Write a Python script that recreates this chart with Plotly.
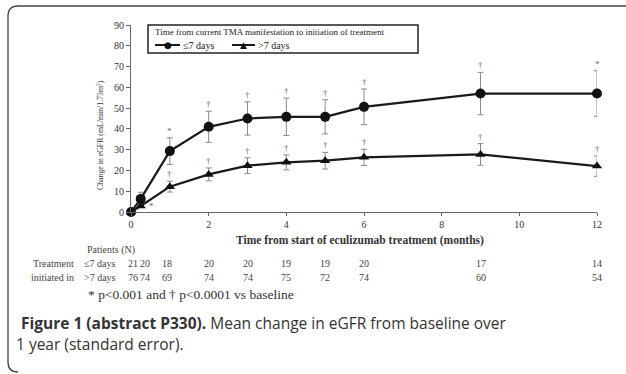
import plotly.graph_objects as go

# ---- data ----
months = [0, 0.25, 1, 2, 3, 4, 5, 6, 9, 12]
le7_mean = [0, 6.3, 29.3, 41.0, 45.0, 45.8, 45.8, 50.6, 57.0, 57.0]
le7_se = [0, 3.2, 6.4, 7.5, 8.0, 9.0, 8.2, 8.6, 10.2, 11.0]
gt7_mean = [0, 2.9, 12.2, 18.1, 22.3, 23.9, 24.7, 26.3, 27.7, 22.1]
gt7_se = [0, 0, 2.6, 3.1, 3.8, 3.6, 4.0, 3.9, 5.2, 4.9]
le7_sig = ["", "", "*", "†", "†", "†", "†", "†", "†", "*"]
gt7_sig = ["", "", "†", "†", "†", "†", "†", "†", "†", "†"]
le7_n = ["21", "20", "18", "20", "20", "19", "19", "20", "17", "14"]
gt7_n = ["76", "74", "69", "74", "74", "75", "72", "74", "60", "54"]
x_ticks = [0, 2, 4, 6, 8, 10, 12]
y_ticks = [0, 10, 20, 30, 40, 50, 60, 70, 80, 90]
series_names = ["≤7 days", ">7 days"]
legend_title = "Time from current TMA manifestation to initiation of treatment"

W, H = 626, 374
L, R, T, B = 131, 29, 25, 162
PW, PH = W - L - R, H - T - B


def px(x):
    return (x - L) / PW


def py(y):
    return (H - B - y) / PH


SERIF = "Liberation Serif"
INK = "#1a1a1a"
fig = go.Figure()
fig.add_trace(go.Scatter(
    x=months, y=le7_mean, mode="lines+markers", name=series_names[0],
    line=dict(color=INK, width=2.2),
    marker=dict(symbol="circle", size=10, color="#111"),
    error_y=dict(type="data", array=le7_se, color="#8a8a8a", thickness=1, width=3),
    cliponaxis=False))
fig.add_trace(go.Scatter(
    x=months, y=gt7_mean, mode="lines+markers", name=series_names[1],
    line=dict(color=INK, width=2.2),
    marker=dict(symbol="triangle-up", size=9, color="#111"),
    error_y=dict(type="data", array=gt7_se, color="#8a8a8a", thickness=1, width=3),
    cliponaxis=False))

sigfont = dict(family=SERIF, size=9, color="#666")
ann = []
for mean, se, sig in ((le7_mean, le7_se, le7_sig), (gt7_mean, gt7_se, gt7_sig)):
    for m, v, s, g in zip(months, mean, se, sig):
        if g:
            ann.append(dict(x=m, y=v + s, xref="x", yref="y", text=g, showarrow=False,
                            xanchor="center", yanchor="middle", yshift=7, font=sigfont))
# asterisk beside the first >7 days point
ann.append(dict(x=months[1], y=gt7_mean[1], xref="x", yref="y", text="*", showarrow=False,
                xshift=11, xanchor="center", yanchor="middle", font=sigfont))


def note(x, y, text, font, xanchor="left", **kw):
    ann.append(dict(x=px(x), y=py(y), xref="paper", yref="paper", text=text,
                    showarrow=False, xanchor=xanchor, yanchor="middle", font=font, **kw))


# axis titles
note(360, 240, "<b>Time from start of eculizumab treatment (months)</b>",
     dict(family=SERIF, size=11.5, color="#333"), xanchor="center")
note(100, 135, "Change in eGFR (mL/min/1.73m<sup>2</sup>)",
     dict(family=SERIF, size=7.8, color="#333"), xanchor="center", textangle=-90)

# legend (drawn manually)
shapes = [dict(type="rect", xref="paper", yref="paper", x0=px(148), x1=px(418),
               y0=py(53), y1=py(25), line=dict(color="#222", width=1.5), fillcolor="white")]
note(153, 32, legend_title, dict(family=SERIF, size=9, color="#222"))
for x0, x1, sym, name in ((155, 180, "●", series_names[0]), (232, 255, "▲", series_names[1])):
    shapes.append(dict(type="line", xref="paper", yref="paper", x0=px(x0), x1=px(x1),
                       y0=py(45), y1=py(45), line=dict(color=INK, width=2)))
    note((x0 + x1) / 2, 45, sym, dict(family="DejaVu Sans", size=9, color="#111"),
         xanchor="center")
    note(x1 + 1, 45, name, dict(family=SERIF, size=10, color="#222"))

# patient table
tf = dict(family=SERIF, size=10, color="#444")
note(85, 250, "Patients (N)", tf)
note(76, 263, "Treatment", tf, xanchor="right")
note(76, 277, "initiated in", tf, xanchor="right")
note(82, 263, "≤7 days", tf)
note(82, 277, ">7 days", tf)
shifts = [2, 4, -3, 0, 0, 0, 0, 0, 0, 0]
for m, a, b, sh in zip(months, le7_n, gt7_n, shifts):
    for txt, yy in ((a, 263), (b, 277)):
        ann.append(dict(x=m, y=py(yy), xref="x", yref="paper", text=txt, showarrow=False,
                        xshift=sh, xanchor="center", yanchor="middle", font=tf))
note(86, 294, "* p<0.001 and † p<0.0001 vs baseline",
     dict(family=SERIF, size=13.5, color="#333"))

# caption
cf = dict(family="Open Sans", size=15.5, color="#333")
note(19, 323, "<b>Figure 1 (abstract P330).</b> Mean change in eGFR from baseline over", cf)
note(14, 344, "1 year (standard error).", cf)

# frame path
r = 10
path = (f"M {px(626)} {py(6)} L {px(8 + r)} {py(6)} Q {px(8)} {py(6)} {px(8)} {py(6 + r)} "
        f"L {px(8)} {py(372 - r)} Q {px(8)} {py(372)} {px(8 + r)} {py(372)}")
shapes.append(dict(type="path", xref="paper", yref="paper", path=path,
                   line=dict(color="#444", width=1.3)))

fig.update_layout(
    width=W, height=H, margin=dict(l=L, r=R, t=T, b=B, autoexpand=False),
    paper_bgcolor="white", plot_bgcolor="white",
    annotations=ann, shapes=shapes, showlegend=False,
    xaxis=dict(range=[0, 12], tickvals=x_ticks, showgrid=False, zeroline=False,
               showline=True, linecolor="#666", linewidth=1.2, ticks="outside", ticklen=3,
               tickcolor="#666", tickfont=dict(family=SERIF, size=10, color="#333")),
    yaxis=dict(range=[0, 90], tickvals=y_ticks, showgrid=False, zeroline=False,
               showline=True, linecolor="#666", linewidth=1.2, ticks="outside", ticklen=4,
               tickcolor="#666", tickfont=dict(family=SERIF, size=10, color="#333")),
)
fig.write_html("out.html", config={"displayModeBar": False},
               post_script="document.body.style.margin='0';document.body.style.overflow='hidden';")
